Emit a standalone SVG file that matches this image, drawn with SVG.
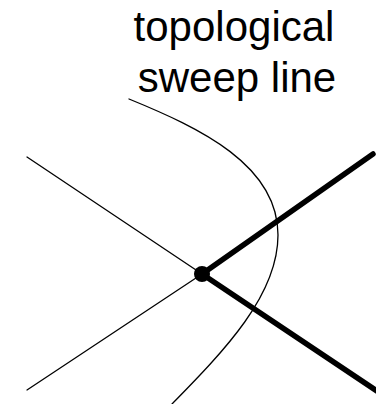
<svg xmlns="http://www.w3.org/2000/svg" width="376" height="404" viewBox="0 0 376 404">
<style>
.thin{stroke:#000;stroke-width:1.3;fill:none;stroke-linecap:round}
.thick{stroke:#000;stroke-width:5.5;fill:none;stroke-linecap:round}
.lbl{font-family:"Liberation Sans",Arial,sans-serif;font-size:42px;fill:#000;text-anchor:middle}
</style>
<rect width="376" height="404" fill="#fff"/>
<g id="edges">
<line class="thin" x1="27" y1="157" x2="202" y2="274"/>
<line class="thin" x1="27" y1="390" x2="202" y2="274"/>
<line class="thick" x1="202" y1="274" x2="373" y2="154"/>
<line class="thick" x1="202" y1="274" x2="380" y2="393"/>
</g>
<g id="sweep">
<path class="thin" stroke-width="1.2" d="M129,99 C200,128 278,165 278,235 C278,295 225,350 172,404"/>
</g>
<g id="vertex">
<circle cx="202" cy="274" r="8" fill="#000"/>
</g>
<g id="label">
<text class="lbl" x="234" y="41">topological</text>
<text class="lbl" x="237" y="92">sweep line</text>
</g>
</svg>
